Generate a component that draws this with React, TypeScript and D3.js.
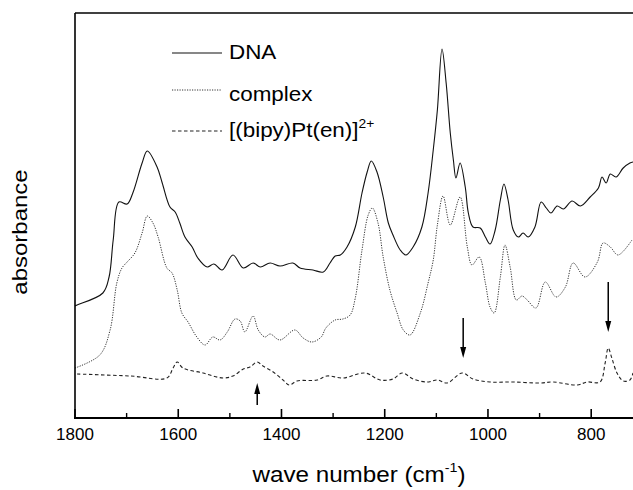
import React from "react";
import * as d3 from "d3";

const dnaWave = [1800,1796,1746,1734,1726,1715,1699,1688,1670,1660,1641,1631,1616,1606,1597,1587,1573,1562,1544,1531,1515,1494,1474,1455,1441,1422,1403,1378,1364,1339,1319,1306,1296,1286,1273,1257,1244,1234,1226,1215,1203,1193,1184,1170,1159,1145,1128,1116,1106,1098,1089,1081,1073,1067,1062,1054,1044,1038,1029,1015,1005,996,986,976,969,961,951,941,932,922,909,897,887,878,866,854,837,821,802,786,779,771,763,752,738,725,719];
const dnaAbs = [1.12,1.13,1.25,1.41,1.78,2.16,2.14,2.25,2.55,2.67,2.51,2.35,2.11,2.06,1.95,1.81,1.71,1.60,1.51,1.54,1.48,1.63,1.50,1.55,1.51,1.55,1.52,1.55,1.50,1.48,1.46,1.55,1.62,1.63,1.71,1.91,2.25,2.46,2.57,2.46,2.21,1.95,1.83,1.68,1.63,1.71,1.91,2.25,2.68,3.08,3.69,3.35,2.85,2.58,2.40,2.55,2.31,2.05,1.91,1.90,1.81,1.74,1.88,2.18,2.34,2.18,1.88,1.81,1.85,1.81,1.91,2.16,2.10,2.05,2.12,2.09,2.17,2.12,2.21,2.30,2.41,2.35,2.44,2.41,2.50,2.55,2.56];

const complexWave = [1800,1752,1732,1719,1709,1699,1684,1670,1660,1649,1639,1622,1612,1602,1593,1581,1564,1548,1533,1519,1505,1490,1480,1471,1455,1445,1432,1422,1403,1374,1358,1341,1323,1314,1296,1281,1267,1257,1244,1232,1224,1213,1203,1190,1176,1164,1151,1131,1116,1106,1098,1087,1073,1054,1040,1031,1017,1005,996,988,976,967,957,945,934,924,907,889,868,850,835,812,788,777,763,748,721];
const complexAbs = [0.50,0.63,0.88,1.35,1.50,1.56,1.65,1.85,2.02,1.95,1.81,1.50,1.45,1.28,1.05,0.96,0.81,0.73,0.81,0.78,0.86,0.99,0.97,0.86,1.02,0.88,0.81,0.84,0.78,0.88,0.80,0.76,0.81,0.90,0.98,0.99,1.03,1.20,1.68,2.03,2.10,1.95,1.61,1.28,1.05,0.88,0.83,1.05,1.35,1.58,1.93,2.22,1.93,2.21,1.71,1.53,1.61,1.35,1.11,1.05,1.41,1.73,1.51,1.18,1.22,1.18,1.10,1.36,1.21,1.31,1.55,1.41,1.56,1.75,1.71,1.63,1.78];

const ptWave = [1796,1693,1622,1610,1602,1591,1552,1513,1494,1474,1461,1447,1436,1416,1397,1385,1370,1331,1312,1281,1238,1209,1184,1166,1145,1118,1098,1079,1050,1029,996,951,899,874,827,808,783,773,767,760,750,738,725,719];
const ptAbs = [0.44,0.42,0.40,0.50,0.56,0.50,0.45,0.40,0.42,0.49,0.51,0.56,0.52,0.46,0.38,0.33,0.37,0.38,0.42,0.40,0.45,0.38,0.39,0.45,0.39,0.36,0.38,0.35,0.45,0.39,0.36,0.36,0.35,0.36,0.33,0.36,0.36,0.55,0.70,0.60,0.45,0.37,0.38,0.45];

const xTicksMajor = [1800, 1600, 1400, 1200, 1000, 800];
const xTicksMinor = [1700, 1500, 1300, 1100, 900];

const arrowWave = [1447, 1048, 767];
const arrowFrom = [0.13, 1.00, 1.36];
const arrowTo = [0.35, 0.60, 0.86];

const legendNames = ["DNA", "complex", "[(bipy)Pt(en)]"];

const W = 633, H = 490;
const left = 75, right = 632.5, top = 13, bottom = 418;

const FONT = "'Liberation Sans', Arial, Helvetica, sans-serif";

export default function App() {
  const x = d3.scaleLinear().domain([1800, 720]).range([left, right]);
  const y = d3.scaleLinear().domain([0, 4.05]).range([bottom, top]);

  const line = d3
    .line<[number, number]>()
    .x((d) => x(d[0]))
    .y((d) => y(d[1]))
    .curve(d3.curveCatmullRom.alpha(0.5));

  const series = [
    { w: dnaWave, a: dnaAbs, dash: undefined as string | undefined, color: "#111", width: 1.1 },
    { w: complexWave, a: complexAbs, dash: "1.2,1.3", color: "#333", width: 1 },
    { w: ptWave, a: ptAbs, dash: "3.5,2.5", color: "#222", width: 1.1 },
  ];

  const legendY = [53, 90, 131];
  const legendBase = [59, 101, 137];

  return (
    <svg width={W} height={H} style={{ display: "block", position: "absolute", left: 0, top: 0, background: "#fff" }}>
      <rect x={0} y={0} width={W} height={H} fill="#fff" />
      {series.map((s, i) => (
        <path
          key={i}
          d={line(s.w.map((w, j) => [w, s.a[j]] as [number, number])) || ""}
          fill="none"
          stroke={s.color}
          strokeWidth={s.width}
          strokeDasharray={s.dash}
        />
      ))}

      {/* arrows */}
      {arrowWave.map((w, i) => {
        const xa = x(w);
        const y0 = y(arrowFrom[i]);
        const y1 = y(arrowTo[i]);
        const dir = y1 > y0 ? 1 : -1;
        const headLen = 11;
        return (
          <g key={i}>
            <line x1={xa} x2={xa} y1={y0} y2={y1 - dir * headLen} stroke="#000" strokeWidth={1.5} />
            <path
              d={`M${xa - 3},${y1 - dir * headLen} L${xa + 3},${y1 - dir * headLen} L${xa},${y1} Z`}
              fill="#000"
            />
          </g>
        );
      })}

      {/* frame */}
      <line x1={left} x2={W} y1={top} y2={top} stroke="#000" strokeWidth={1.6} />
      <line x1={left} x2={left} y1={top} y2={bottom} stroke="#000" strokeWidth={1.6} />
      <line x1={left - 1} x2={W} y1={bottom} y2={bottom} stroke="#000" strokeWidth={2} />

      {xTicksMajor.map((t) => (
        <g key={"M" + t}>
          <line x1={x(t)} x2={x(t)} y1={bottom} y2={bottom - 9} stroke="#000" strokeWidth={1.6} />
          <text x={x(t)} y={440} textAnchor="middle" fontFamily={FONT} fontSize={17} fill="#000">
            {t}
          </text>
        </g>
      ))}
      {xTicksMinor.map((t) => (
        <line key={"m" + t} x1={x(t)} x2={x(t)} y1={bottom} y2={bottom - 5} stroke="#000" strokeWidth={1.4} />
      ))}

      {/* axis titles */}
      <g transform="translate(359,482) scale(1.1,1)">
        <text x={0} y={0} textAnchor="middle" fontFamily={FONT} fontSize={22} fill="#000">
          wave number (cm
          <tspan fontSize={13} dy={-10}>-1</tspan>
          <tspan dy={10}>)</tspan>
        </text>
      </g>
      <g transform="translate(27,232) rotate(-90) scale(1.2,1)">
        <text x={0} y={0} textAnchor="middle" fontFamily={FONT} fontSize={20} fill="#000">
          absorbance
        </text>
      </g>

      {/* legend */}
      {legendNames.map((n, i) => (
        <g key={n}>
          <line
            x1={172}
            x2={222}
            y1={legendY[i]}
            y2={legendY[i]}
            stroke={series[i].color}
            strokeWidth={series[i].width}
            strokeDasharray={series[i].dash}
          />
          <g transform={`translate(229,${legendBase[i]}) scale(1.15,1)`}>
            <text x={0} y={0} fontFamily={FONT} fontSize={19.5} fill="#000">
              {n}
              {i === 2 ? (
                <tspan fontSize={12} dy={-9}>
                  2+
                </tspan>
              ) : null}
            </text>
          </g>
        </g>
      ))}
    </svg>
  );
}
